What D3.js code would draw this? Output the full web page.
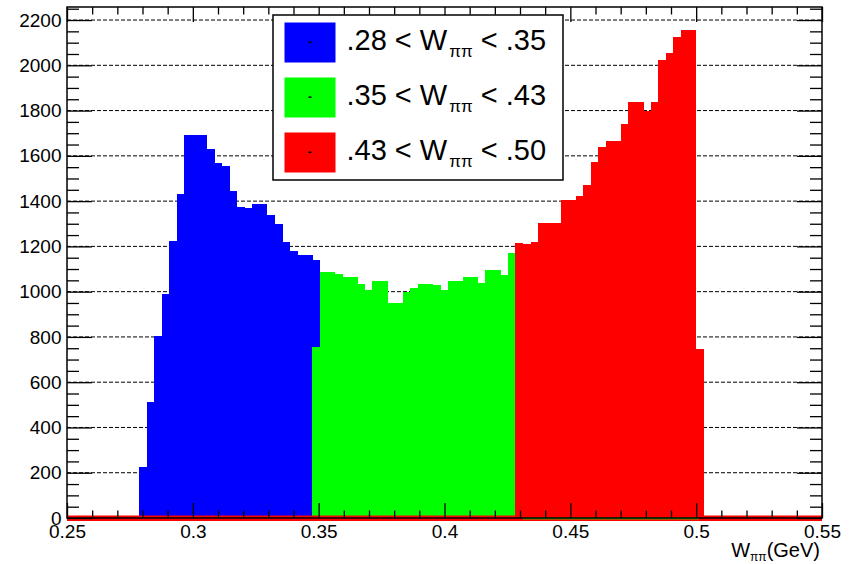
<!DOCTYPE html>
<html>
<head>
<meta charset="utf-8">
<script src="https://cdn.jsdelivr.net/npm/d3@7"></script>
<style>
  html, body { margin: 0; padding: 0; background: #fff; }
  svg { display: block; }
  text { font-family: "Liberation Sans", Arial, Helvetica, sans-serif; fill: #000; }
</style>
</head>
<body>
<svg id="chart" width="852" height="564"></svg>
<script>
// ---------------- data ----------------
const binLow = 0.2787;      // lower edge of first filled bin (GeV)
const binWidth = 0.00299;   // bin width (GeV)
const blueStartBin = 0;
const greenStartBin = 23;
const redStartBin = 50;

const blueCounts = [224, 514, 803, 988, 1225, 1432, 1694, 1694, 1694, 1630, 1567, 1553,
                    1445, 1376, 1370, 1386, 1386, 1337, 1298, 1221, 1181, 1162, 1162, 1141];
const greenCounts = [757, 1086, 1086, 1080, 1066, 1066, 1034, 1009, 1046, 1046, 951, 951,
                     1000, 1015, 1034, 1034, 1028, 1009, 1046, 1046, 1066, 1066, 1040, 1097,
                     1097, 1072, 1170];
const redCounts = [1214, 1210, 1221, 1305, 1305, 1305, 1405, 1405, 1424, 1471, 1573, 1638,
                   1665, 1665, 1740, 1837, 1837, 1800, 1837, 2024, 2056, 2127, 2158, 2158, 745];

const seriesNames = ["blue", "green", "red"];
const legendLow = [".28", ".35", ".43"];
const legendHigh = [".35", ".43", ".50"];

const xDomain = [0.25, 0.55];
const yDomain = [0, 2257.6];
const xMajorTicks = [0.25, 0.30, 0.35, 0.40, 0.45, 0.50, 0.55];
const xTickLabels = ["0.25", "0.3", "0.35", "0.4", "0.45", "0.5", "0.55"];
const yMajorTicks = [0, 200, 400, 600, 800, 1000, 1200, 1400, 1600, 1800, 2000, 2200];

// ---------------- layout / style ----------------
const colors = { blue: "#0000ff", green: "#00ff00", red: "#ff0000" };
const plot = { left: 67, right: 822, top: 7, bottom: 518 };
const svg = d3.select("#chart");

const x = d3.scaleLinear().domain(xDomain).range([plot.left, plot.right]);
const y = d3.scaleLinear().domain(yDomain).range([plot.bottom, plot.top]);

const xMinorTicks = d3.range(0, 31).map(i => +(xDomain[0] + i * 0.01).toFixed(3))
  .filter(v => !xMajorTicks.some(m => Math.abs(m - v) < 1e-6));
const yMinorTicks = d3.range(0, 46).map(i => i * 50)
  .filter(v => v % 200 !== 0 && v <= yDomain[1]);

// gridlines (horizontal dashed)
svg.append("g").selectAll("line")
  .data(yMajorTicks.filter(d => d > 0))
  .join("line")
  .attr("x1", plot.left).attr("x2", plot.right)
  .attr("y1", d => y(d)).attr("y2", d => y(d))
  .attr("stroke", "#000").attr("stroke-width", 1)
  .attr("stroke-dasharray", "4,2");

// bars
function drawSeries(counts, startBin, color) {
  svg.append("g").attr("shape-rendering", "crispEdges")
    .selectAll("rect")
    .data(counts)
    .join("rect")
    .attr("x", (d, i) => x(binLow + (startBin + i) * binWidth))
    .attr("width", (d, i) => x(binLow + (startBin + i + 1) * binWidth) - x(binLow + (startBin + i) * binWidth) + 0.3)
    .attr("y", d => y(d))
    .attr("height", d => y(0) - y(d))
    .attr("fill", color);
}
drawSeries(blueCounts, blueStartBin, colors.blue);
drawSeries(greenCounts, greenStartBin, colors.green);
drawSeries(redCounts, redStartBin, colors.red);

// zero-level histogram lines
svg.append("rect")
  .attr("x", x(xDomain[0])).attr("width", x(xDomain[1]) - x(xDomain[0]))
  .attr("y", y(0) - 2.5).attr("height", 5.5)
  .attr("fill", colors.red);
svg.append("rect")
  .attr("x", x(binLow + (redStartBin + 0.95) * binWidth))
  .attr("width", x(binLow + (redStartBin + redCounts.length - 0.6) * binWidth) - x(binLow + (redStartBin + 0.95) * binWidth))
  .attr("y", y(0) - 0.3).attr("height", 1.6)
  .attr("fill", colors.green);

// axes (ticks pointing inwards, ROOT style)
const fontSize = 19;
const leftAxis = svg.append("g").attr("transform", `translate(${plot.left},0)`)
  .call(d3.axisLeft(y).tickValues(yMajorTicks).tickSize(-25).tickPadding(5.5).tickFormat(d3.format("d")));
const leftMinor = svg.append("g").attr("transform", `translate(${plot.left},0)`)
  .call(d3.axisLeft(y).tickValues(yMinorTicks).tickSize(-12).tickFormat(""));
const rightAxis = svg.append("g").attr("transform", `translate(${plot.right},0)`)
  .call(d3.axisRight(y).tickValues(yMajorTicks).tickSize(-25).tickFormat(""));
const rightMinor = svg.append("g").attr("transform", `translate(${plot.right},0)`)
  .call(d3.axisRight(y).tickValues(yMinorTicks).tickSize(-12).tickFormat(""));
const bottomAxis = svg.append("g").attr("transform", `translate(0,${plot.bottom})`)
  .call(d3.axisBottom(x).tickValues(xMajorTicks).tickSize(-15).tickPadding(7)
    .tickFormat((d, i) => xTickLabels[i]));
const bottomMinor = svg.append("g").attr("transform", `translate(0,${plot.bottom})`)
  .call(d3.axisBottom(x).tickValues(xMinorTicks).tickSize(-7.5).tickFormat(""));
const topAxis = svg.append("g").attr("transform", `translate(0,${plot.top})`)
  .call(d3.axisTop(x).tickValues(xMajorTicks).tickSize(-15).tickFormat(""));
const topMinor = svg.append("g").attr("transform", `translate(0,${plot.top})`)
  .call(d3.axisTop(x).tickValues(xMinorTicks).tickSize(-7.5).tickFormat(""));

[leftAxis, leftMinor, rightAxis, rightMinor, bottomAxis, bottomMinor, topAxis, topMinor].forEach(g => {
  g.select(".domain").remove();
  g.selectAll(".tick line").attr("stroke", "#000").attr("stroke-width", 1.3);
  g.selectAll("text").attr("font-size", fontSize)
    .attr("font-family", "'Liberation Sans', Arial, sans-serif").attr("fill", "#000");
  g.attr("font-family", null).attr("font-size", null);
});

// frame
svg.append("rect")
  .attr("x", plot.left).attr("y", plot.top)
  .attr("width", plot.right - plot.left).attr("height", plot.bottom - plot.top)
  .attr("fill", "none").attr("stroke", "#000").attr("stroke-width", 1.5);

// x-axis title
const xt = svg.append("text")
  .attr("x", plot.right - 2).attr("y", 556.5)
  .attr("text-anchor", "end")
  .attr("font-size", 20);
xt.append("tspan").text("W");
xt.append("tspan").attr("font-size", 12).attr("dy", 4).text("ππ");
xt.append("tspan").attr("dy", -4).text("(GeV)");

// legend
const leg = svg.append("g");
leg.append("rect")
  .attr("x", 273).attr("y", 15).attr("width", 290).attr("height", 165)
  .attr("fill", "#fff").attr("stroke", "#000").attr("stroke-width", 1.5);
seriesNames.forEach((name, i) => {
  const top = 22.5 + i * 55;
  leg.append("rect")
    .attr("x", 284.5).attr("y", top).attr("width", 51).attr("height", 40)
    .attr("fill", colors[name]);
  leg.append("rect")
    .attr("x", 308.5).attr("y", top + 19).attr("width", 3).attr("height", 1.5)
    .attr("fill", "#000");
  const t = leg.append("text")
    .attr("x", 346.5).attr("y", top + 27.5)
    .attr("font-size", 29);
  t.append("tspan").text(legendLow[i] + " < W");
  t.append("tspan").attr("font-size", 17).attr("dy", 6.5).attr("dx", 2).text("ππ");
  t.append("tspan").attr("dy", -6.5).text(" < " + legendHigh[i]);
});
</script>
</body>
</html>
